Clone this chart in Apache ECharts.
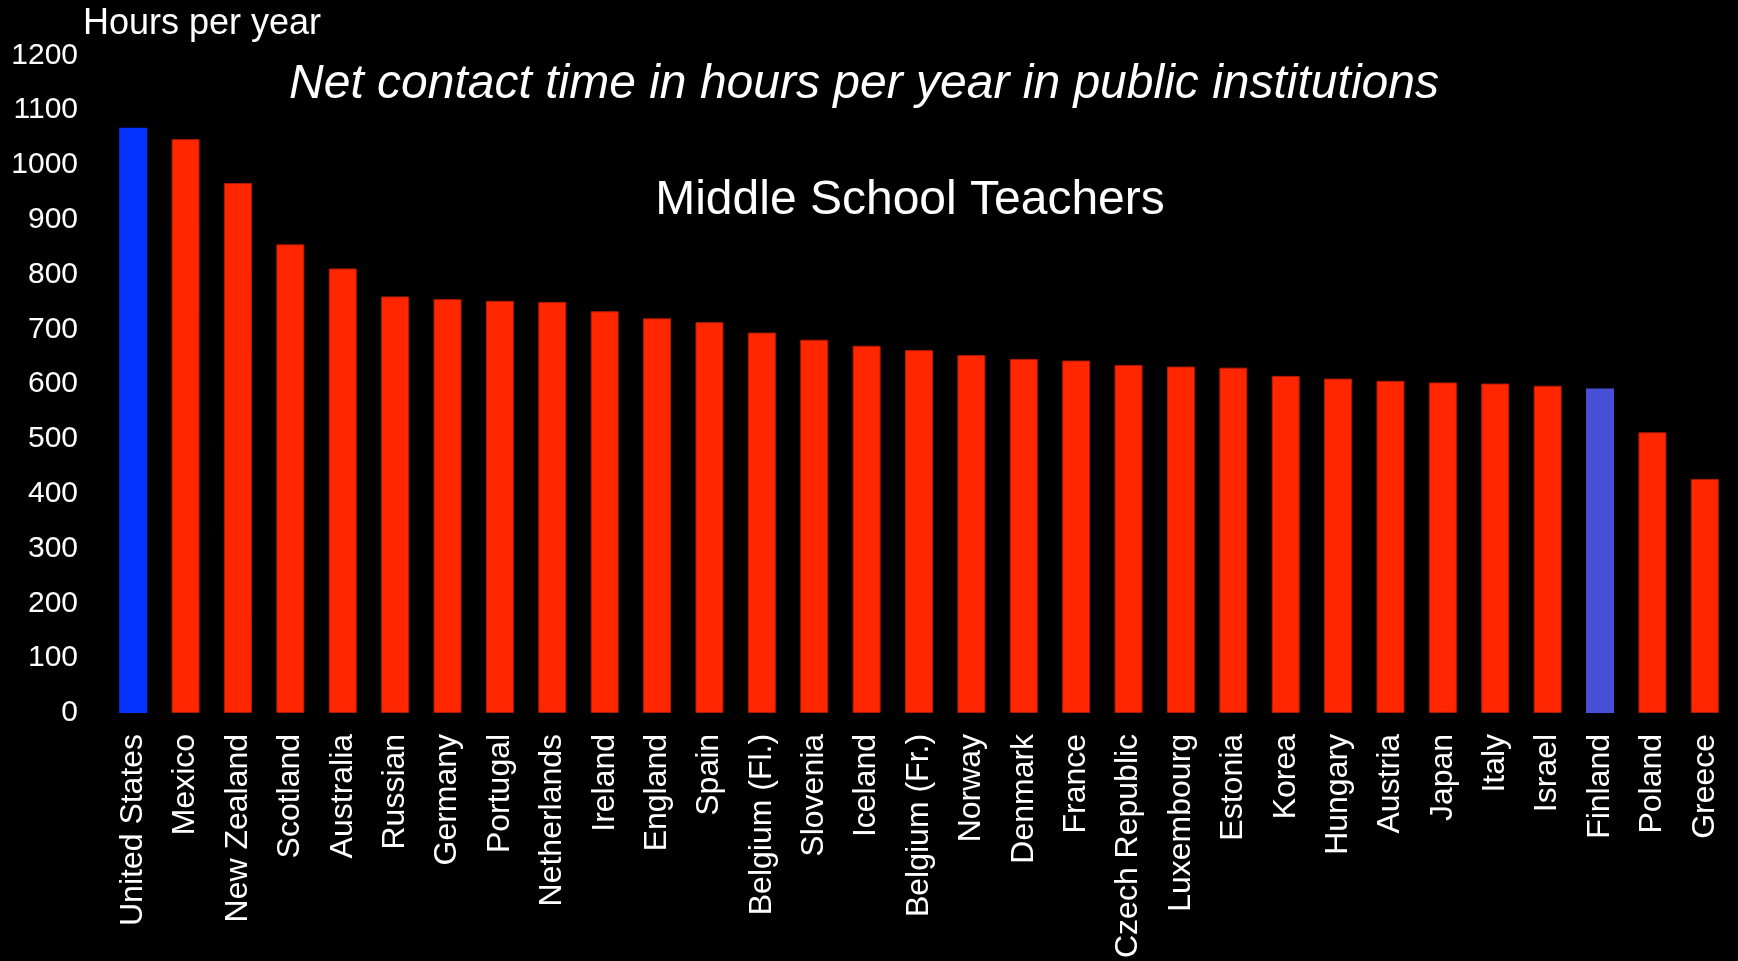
<!DOCTYPE html>
<html>
<head>
<meta charset="utf-8">
<title>Net contact time – Middle School Teachers</title>
<script src="https://cdn.jsdelivr.net/npm/echarts@6/dist/echarts.min.js"></script>
<style>
  html, body { margin: 0; padding: 0; background: #000; }
  #chart { width: 1738px; height: 961px; }
</style>
</head>
<body>
<div id="chart"></div>
<script>
// Net teaching (contact) hours per year, lower secondary, public institutions
const countries = [
  'United States', 'Mexico', 'New Zealand', 'Scotland', 'Australia', 'Russian',
  'Germany', 'Portugal', 'Netherlands', 'Ireland', 'England', 'Spain',
  'Belgium (Fl.)', 'Slovenia', 'Iceland', 'Belgium (Fr.)', 'Norway', 'Denmark',
  'France', 'Czech Republic', 'Luxembourg', 'Estonia', 'Korea', 'Hungary',
  'Austria', 'Japan', 'Italy', 'Israel', 'Finland', 'Poland', 'Greece'
];
const hours = [
  1068, 1047, 967, 855, 811, 760,
  755, 752, 750, 733, 720, 713,
  694, 681, 670, 662, 653, 646,
  643, 635, 632, 630, 615, 610,
  606, 603, 601, 597, 592, 512, 427
];
const yTicks = [0, 100, 200, 300, 400, 500, 600, 700, 800, 900, 1000, 1100, 1200];

const FONT = "'Liberation Sans', Arial, Helvetica, sans-serif";
const RED = '#FF2600';
const accent = { 'United States': '#0433FF', 'Finland': '#464FD6' };

const chart = echarts.init(document.getElementById('chart'), null, { renderer: 'canvas' });

const barData = hours.map((v, i) => {
  const c = accent[countries[i]];
  return {
    value: v,
    itemStyle: c
      ? { color: c, borderWidth: 0 }
      : { color: RED, borderColor: '#b01c00', borderWidth: 1 }
  };
});

chart.setOption({
  backgroundColor: '#000000',
  animation: false,
  textStyle: { fontFamily: FONT },
  grid: { left: 107, right: 7, top: 55.3, bottom: 243.3, containLabel: false },
  xAxis: {
    type: 'category',
    data: countries,
    axisLine: { show: false },
    axisTick: { show: false },
    axisLabel: {
      interval: 0,
      rotate: 90,
      margin: 21,
      color: '#ffffff',
      fontSize: 32,
      fontFamily: FONT
    }
  },
  yAxis: {
    type: 'value',
    min: yTicks[0],
    max: yTicks[yTicks.length - 1],
    interval: yTicks[1] - yTicks[0],
    axisLine: { show: false },
    axisTick: { show: false },
    splitLine: { show: false },
    axisLabel: {
      margin: 29,
      color: '#ffffff',
      fontSize: 30,
      fontFamily: FONT,
      padding: [8, 0, 0, 0],
      formatter: (v) => String(v)
    }
  },
  series: [{
    type: 'bar',
    data: barData,
    barWidth: 28
  }],
  graphic: [
    {
      type: 'text',
      left: 83,
      top: 6,
      style: {
        text: 'Hours per year',
        fill: '#ffffff',
        font: "36px " + FONT
      }
    },
    {
      type: 'text',
      x: 864,
      y: 85,
      style: {
        text: 'Net contact time in hours per year in public institutions',
        fill: '#ffffff',
        font: "italic 48px " + FONT,
        align: 'center',
        verticalAlign: 'middle'
      }
    },
    {
      type: 'text',
      x: 910,
      y: 201,
      style: {
        text: 'Middle School Teachers',
        fill: '#ffffff',
        font: "48px " + FONT,
        align: 'center',
        verticalAlign: 'middle'
      }
    }
  ]
});
</script>
</body>
</html>
